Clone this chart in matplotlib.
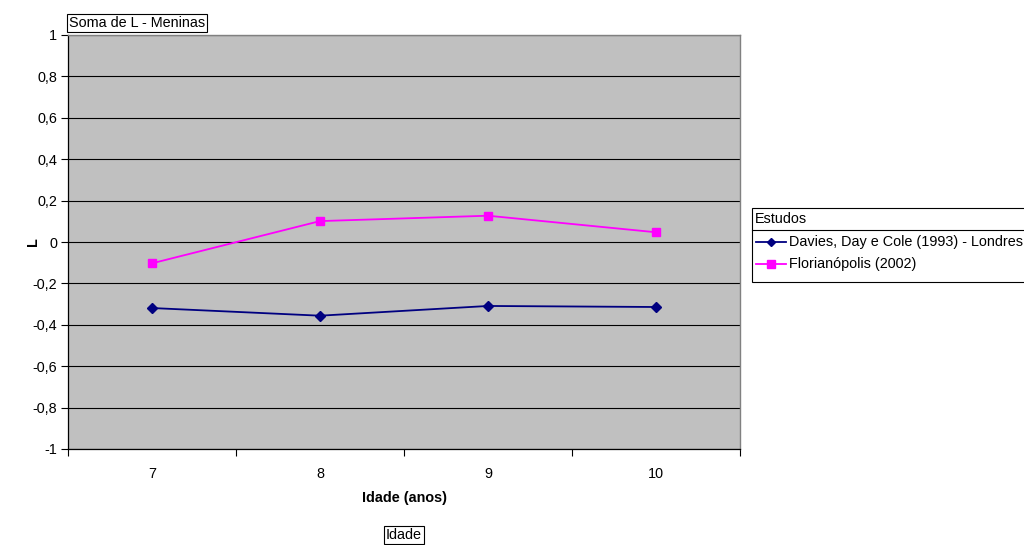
import matplotlib.pyplot as plt
from matplotlib.patches import Rectangle
from matplotlib.lines import Line2D
import numpy as np

plt.rcParams['font.family'] = ['Liberation Sans', 'DejaVu Sans']

# Dados
idades = [7, 8, 9, 10]
davies_londres = [-0.319, -0.356, -0.309, -0.314]
florianopolis = [-0.103, 0.101, 0.127, 0.047]
y_ticks = [-1, -0.8, -0.6, -0.4, -0.2, 0, 0.2, 0.4, 0.6, 0.8, 1]
y_labels = ["-1", "-0,8", "-0,6", "-0,4", "-0,2", "0", "0,2", "0,4", "0,6", "0,8", "1"]

W, H = 1024, 545
FS = 10.4
fig = plt.figure(figsize=(W / 100, H / 100), dpi=100)
fig.patch.set_facecolor("white")

# area do grafico em pixels: x 68..740, y 35..449
ax = fig.add_axes([68 / W, 1 - 449 / H, (740 - 68) / W, (449 - 35) / H])
ax.set_facecolor("#C0C0C0")

ax.plot(idades, davies_londres, color="#000080", lw=1.3, marker="D", ms=5,
        mec="#000080", mfc="#000080", zorder=3)
ax.plot(idades, florianopolis, color="#FF00FF", lw=1.3, marker="s", ms=6,
        mec="#FF00FF", mfc="#FF00FF", zorder=3)

ax.set_xlim(6.5, 10.5)
ax.set_ylim(-1, 1)
ax.set_yticks(y_ticks)
ax.set_yticklabels(y_labels, fontsize=FS)
ax.set_xticks(idades)
ax.set_xticklabels([str(i) for i in idades], fontsize=FS)
ax.set_xticks(np.arange(6.5, 10.6, 1), minor=True)
ax.tick_params(axis="x", which="major", length=0, pad=13)
ax.tick_params(axis="x", which="minor", length=5, width=0.8, direction="out")
ax.tick_params(axis="y", length=5, width=0.8, direction="out", pad=3)
ax.yaxis.grid(True, color="black", lw=0.8)
ax.set_axisbelow(True)

for s in ["left", "bottom"]:
    ax.spines[s].set_color("black")
    ax.spines[s].set_linewidth(0.9)
for s in ["top", "right"]:
    ax.spines[s].set_color("#808080")
    ax.spines[s].set_linewidth(1.0)

ax.set_xlabel("Idade (anos)", fontsize=FS, fontweight="bold", labelpad=7)
ax.set_ylabel("L", fontsize=FS, fontweight="bold")
ax.yaxis.set_label_coords((40 - 68) / (740 - 68), 0.5)

# caixas de texto do campo de pagina
box = dict(boxstyle="square,pad=0.15", fc="white", ec="black", lw=0.8)
fig.text(69 / W, 1 - 23 / H, "Soma de L - Meninas", fontsize=FS, ha="left",
         va="center", bbox=box)
fig.text(404 / W, 1 - 535 / H, "Idade", fontsize=FS, ha="center",
         va="center", bbox=box)

# legenda desenhada a mao
def px(x, y):
    return x / W, 1 - y / H

lx0, lx1, ly0, ly1 = 752, 1030, 208, 282
fig.add_artist(Rectangle(px(lx0, ly1), (lx1 - lx0) / W, (ly1 - ly0) / H,
                         transform=fig.transFigure, fc="white", ec="black",
                         lw=0.8))
fig.add_artist(Line2D([lx0 / W, lx1 / W], [1 - 230 / H] * 2,
                      transform=fig.transFigure, color="black", lw=0.8))
fig.text(*px(755, 219), "Estudos", fontsize=FS, ha="left", va="center")

entradas = [("Davies, Day e Cole (1993) - Londres", "#000080", "D", 4.5, 242),
            ("Florianópolis (2002)", "#FF00FF", "s", 5.5, 264)]
for nome, cor, mk, tam, yy in entradas:
    fig.add_artist(Line2D([756 / W, 786 / W], [1 - yy / H] * 2,
                          transform=fig.transFigure, color=cor, lw=1.3))
    fig.add_artist(Line2D([771 / W], [1 - yy / H], transform=fig.transFigure,
                          marker=mk, ms=tam, color=cor, mec=cor, mfc=cor))
    fig.text(*px(789, yy), nome, fontsize=FS, ha="left", va="center")

fig.savefig("out.png", dpi=100)
